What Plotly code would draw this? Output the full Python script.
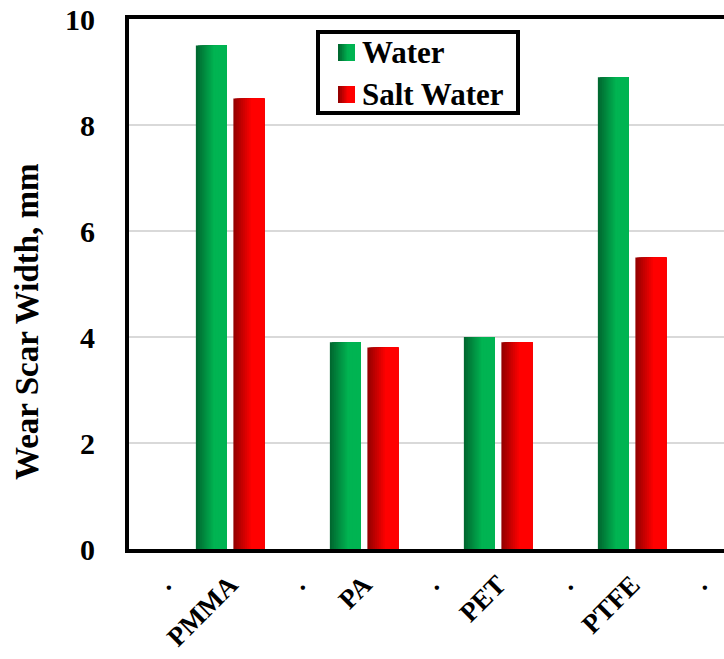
import plotly.graph_objects as go

# Polymer samples and measured wear scar widths (mm)
materials = ["PMMA", "PA", "PET", "PTFE"]
water = [9.5, 3.9, 4.0, 8.9]
salt_water = [8.5, 3.8, 3.9, 5.5]
y_ticks = [0, 2, 4, 6, 8, 10]

FONT = "Liberation Serif"
positions = [i + 1 for i in range(len(materials))]

# tick labels: material names at group centres, dots at the group boundaries
tick_vals, tick_text = [], []
for p, name in zip(positions, materials):
    tick_vals += [p - 0.5, p]
    tick_text += [".", name]
tick_vals.append(positions[-1] + 0.5)
tick_text.append(".")

BAR_W = 0.23
GAP = 0.05
SLICES = 16

# plot area in pixels (used for the hand-built legend box)
W, H = 724, 659
ML, MR, MT, MB = 129, 0, 19, 110
PW, PH = W - ML - MR, H - MT - MB


def px_x(v):
    return (v - ML) / PW


def px_y(v):
    return (H - MB - v) / PH


def blend(c0, c1, t):
    t = min(1.0, t / 0.6)
    return "rgb({},{},{})".format(*[round(a + (b - a) * t) for a, b in zip(c0, c1)])


series = [
    ("Water", water, (0, 105, 48), (0, 180, 82), -GAP / 2 - BAR_W),
    ("Salt Water", salt_water, (150, 0, 0), (255, 0, 0), GAP / 2),
]

fig = go.Figure()
sw = BAR_W / SLICES
for name, vals, dark, bright, start in series:
    # each slice runs to the bar's right edge; later (brighter) slices sit on top,
    # giving a left-to-right shading without seams
    for k in range(SLICES):
        col = blend(dark, bright, k / (SLICES - 1))
        fig.add_trace(go.Bar(
            x=positions, y=vals, base=0,
            width=BAR_W - k * sw, offset=start + k * sw,
            marker=dict(color=col, line=dict(width=0)),
            name=name, showlegend=False, hoverinfo="skip",
        ))

# legend box with shaded swatches
shapes = [dict(
    type="rect", xref="paper", yref="paper",
    x0=px_x(318), x1=px_x(518), y0=px_y(113), y1=px_y(32),
    line=dict(color="black", width=4), fillcolor="white", layer="above",
)]
annotations = []
for (name, _, dark, bright, _), top in zip(series, (44, 86)):
    n = 8
    for k in range(n):
        x0 = 338 + k * 17 / n
        shapes.append(dict(
            type="rect", xref="paper", yref="paper",
            x0=px_x(x0), x1=px_x(355), y0=px_y(top + 17), y1=px_y(top),
            line=dict(width=0), fillcolor=blend(dark, bright, k / (n - 1)),
            layer="above",
        ))
    annotations.append(dict(
        text=name, xref="paper", yref="paper",
        x=px_x(360), y=px_y(top + 8.5), xanchor="left", yanchor="middle",
        showarrow=False,
        font=dict(family=FONT, size=31, color="black", weight="bold"),
    ))

annotations.append(dict(
    text="Wear Scar Width, mm", textangle=-90,
    xref="paper", yref="paper", x=px_x(27), y=px_y(322),
    xanchor="center", yanchor="middle", showarrow=False,
    font=dict(family=FONT, size=33, color="black", weight="bold"),
))

fig.update_layout(
    width=W, height=H,
    margin=dict(l=ML, r=MR, t=MT, b=MB, autoexpand=False),
    plot_bgcolor="white", paper_bgcolor="white",
    barmode="overlay", showlegend=False,
    font=dict(family=FONT, color="black"),
    xaxis=dict(
        range=[0.246, 0.246 + PW / 134],
        tickmode="array", tickvals=tick_vals, ticktext=tick_text,
        tickangle=-45, ticklabelstandoff=5, automargin=False,
        tickfont=dict(family=FONT, size=27, color="black", weight="bold"),
        showgrid=False, zeroline=False,
        showline=True, linecolor="black", linewidth=4, mirror=True,
        ticks="",
    ),
    yaxis=dict(
        range=[0, 10], tickvals=y_ticks, automargin=False,
        tickfont=dict(family=FONT, size=30, color="black", weight="bold"),
        ticklabelstandoff=24,
        showgrid=True, gridcolor="#d9d9d9", gridwidth=2,
        zeroline=False,
        showline=True, linecolor="black", linewidth=4,
        ticks="",
    ),
    shapes=shapes,
    annotations=annotations,
)

fig.write_html("out.html")
